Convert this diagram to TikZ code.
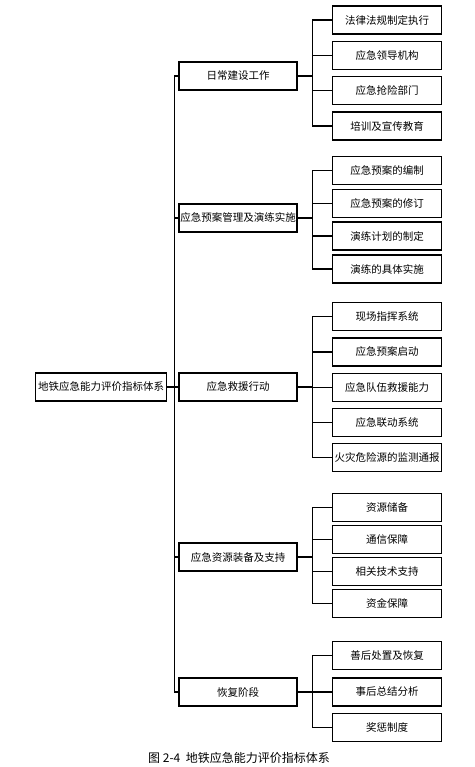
\documentclass[tikz,border=0pt]{standalone}
\usepackage{fontspec}
\newfontfamily\cjk{Noto Sans CJK SC}
\usetikzlibrary{positioning}
\tikzset{
  rootbox/.style={draw=black,line width=1.4pt,minimum width=131pt,minimum height=28pt,inner sep=1pt,font=\cjk\fontsize{10.5}{12}\selectfont},
  catbox/.style={draw=black,line width=1.4pt,minimum width=118pt,minimum height=28pt,inner sep=1pt,font=\cjk\fontsize{10.5}{12}\selectfont},
  itembox/.style={draw=black,line width=1.4pt,minimum width=109pt,minimum height=28pt,inner sep=1pt,font=\cjk\fontsize{10.5}{12}\selectfont},
  conn/.style={black,line width=1.1pt},
}
\begin{document}
\begin{tikzpicture}[x=1pt,y=-1pt]
  \useasboundingbox (0,0) rectangle (474,767);
  % root and first level
  \node[rootbox] (root) at (101,387) {地铁应急能力评价指标体系};
  \node[catbox] (ca) at (238,76) {日常建设工作};
  \node[catbox] (cb) at (238,218) {应急预案管理及演练实施};
  \node[catbox] (cc) at (238,387) {应急救援行动};
  \node[catbox] (cd) at (238,557) {应急资源装备及支持};
  \node[catbox] (ce) at (238,692) {恢复阶段};
  \foreach \c in {ca,cb,cc,cd,ce}
    \draw[conn] (root.east) -- ([xshift=7pt]root.east) |- (\c.west);
  % second level
  \foreach \t/\y [count=\i] in {法律法规制定执行/20,应急领导机构/55.3,应急抢险部门/90.7,培训及宣传教育/126}
    \node[itembox] (a\i) at (387,\y) {\t};
  \foreach \t/\y [count=\i] in {应急预案的编制/170.7,应急预案的修订/203.7,演练计划的制定/236,演练的具体实施/269}
    \node[itembox] (b\i) at (387,\y) {\t};
  \foreach \t/\y [count=\i] in {现场指挥系统/316.7,应急预案启动/352,应急队伍救援能力/387.3,应急联动系统/422.7,火灾危险源的监测通报/457.7}
    \node[itembox] (c\i) at (387,\y) {\t};
  \foreach \t/\y [count=\i] in {资源储备/507.7,通信保障/539.5,相关技术支持/571.7,资金保障/603.7}
    \node[itembox] (d\i) at (387,\y) {\t};
  \foreach \t/\y [count=\i] in {善后处置及恢复/655.7,事后总结分析/692,奖惩制度/727.7}
    \node[itembox] (e\i) at (387,\y) {\t};
  \foreach \i in {1,...,4} \draw[conn] (ca.east) -- ++(15,0) |- (a\i.west);
  \foreach \i in {1,...,4} \draw[conn] (cb.east) -- ++(15,0) |- (b\i.west);
  \foreach \i in {1,...,5} \draw[conn] (cc.east) -- ++(15,0) |- (c\i.west);
  \foreach \i in {1,...,4} \draw[conn] (cd.east) -- ++(15,0) |- (d\i.west);
  \foreach \i in {1,...,3} \draw[conn] (ce.east) -- ++(15,0) |- (e\i.west);
  % caption
  \node[font=\cjk\fontsize{12}{14}\selectfont] (cap) at (239,758) {图 2-4\ \ 地铁应急能力评价指标体系};
\end{tikzpicture}
\end{document}
